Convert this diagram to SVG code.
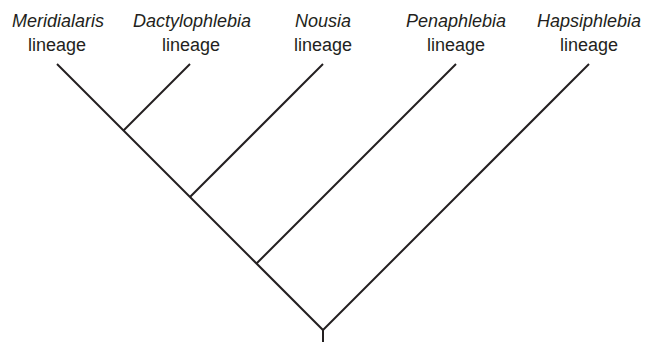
<svg xmlns="http://www.w3.org/2000/svg" width="646" height="342" viewBox="0 0 646 342">
  <style>
    .lbl { font-family: "Liberation Sans", Arial, sans-serif; font-size: 18px; fill: #231f20; text-anchor: middle; }
    .taxon { font-style: italic; }
    .edge { stroke: #231f20; stroke-width: 2; fill: none; stroke-linecap: butt; }
  </style>
  <rect width="646" height="342" fill="#ffffff"/>

  <!-- tree branches -->
  <g id="connectors">
    <line class="edge" x1="57" y1="64" x2="323" y2="330"/>
    <line class="edge" x1="123.5" y1="130.5" x2="190" y2="64"/>
    <line class="edge" x1="190" y1="197" x2="323" y2="64"/>
    <line class="edge" x1="256.5" y1="263.5" x2="456" y2="64"/>
    <line class="edge" x1="323" y1="330" x2="589" y2="64"/>
    <line class="edge" x1="323" y1="329" x2="323" y2="342"/>
  </g>

  <!-- terminal taxa -->
  <g id="meridialaris">
    <text class="lbl taxon" x="58" y="27">Meridialaris</text>
    <text class="lbl" x="57" y="51">lineage</text>
  </g>
  <g id="dactylophlebia">
    <text class="lbl taxon" x="192" y="27">Dactylophlebia</text>
    <text class="lbl" x="191" y="51">lineage</text>
  </g>
  <g id="nousia">
    <text class="lbl taxon" x="323" y="27">Nousia</text>
    <text class="lbl" x="323" y="51">lineage</text>
  </g>
  <g id="penaphlebia">
    <text class="lbl taxon" x="456" y="27">Penaphlebia</text>
    <text class="lbl" x="456" y="51">lineage</text>
  </g>
  <g id="hapsiphlebia">
    <text class="lbl taxon" x="589" y="27">Hapsiphlebia</text>
    <text class="lbl" x="589" y="51">lineage</text>
  </g>
</svg>
